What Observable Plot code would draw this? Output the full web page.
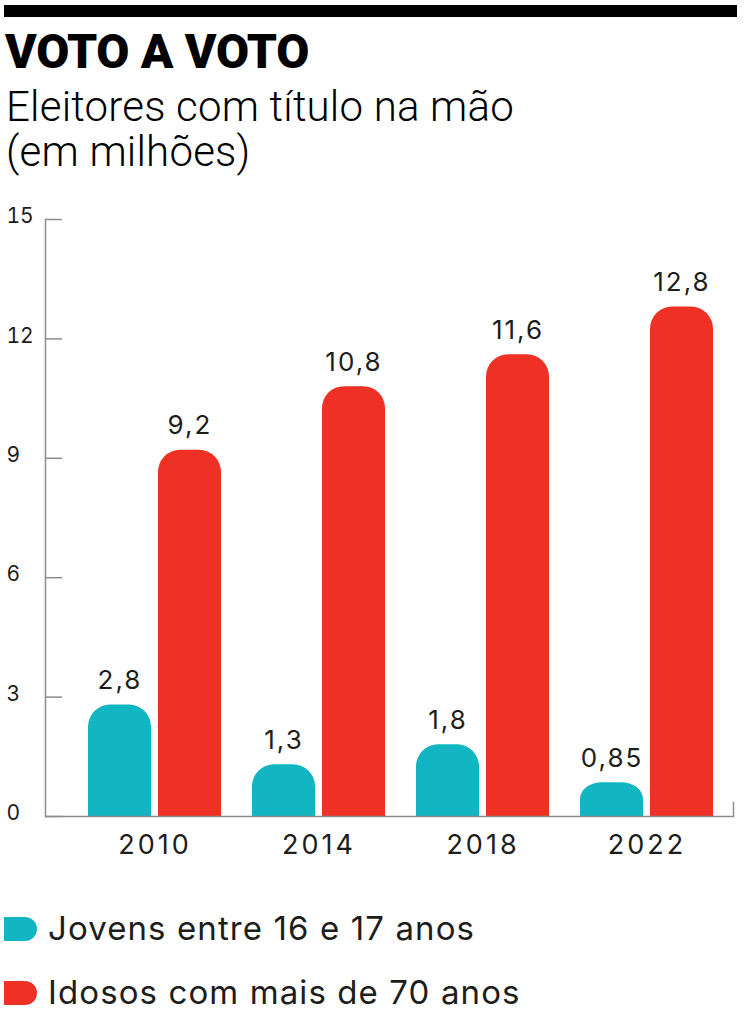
<!DOCTYPE html>
<html>
<head>
<meta charset="utf-8">
<script src="https://cdn.jsdelivr.net/npm/d3@7"></script>
<script src="https://cdn.jsdelivr.net/npm/@observablehq/plot@0.6"></script>
<style>
  html, body { margin: 0; padding: 0; background: #fff; }
  body { width: 744px; height: 1024px; position: relative; overflow: hidden; color: #1d1d1b; }
  #topbar { position: absolute; left: 4px; top: 5px; width: 733px; height: 12px; background: #000; }
  #title { position: absolute; left: 5px; top: 32px; font: 900 48px/40px Roboto, sans-serif; color: #000; white-space: nowrap; letter-spacing: -0.3px; }
  #subtitle { position: absolute; left: 6px; top: 84px; font: 300 42px/45px Roboto, sans-serif; color: #000; white-space: nowrap; letter-spacing: 0.2px; }
  #chart { position: absolute; left: 0; top: 180px; }
  .sw { position: absolute; left: 4px; width: 33px; height: 24px; border-radius: 0 12px 12px 0; }
  .lt { position: absolute; left: 48px; font: 400 33px/33px Inter, sans-serif; color: #1d1d1b; white-space: nowrap; letter-spacing: 1.1px; }
  #chart svg text { letter-spacing: 2px; }
  #chart svg g[aria-label="x-axis tick label"] text { letter-spacing: 3px; }
  #chart svg g[aria-label="y-axis tick label"] text { letter-spacing: 0px; }
</style>
</head>
<body>
<div id="topbar"></div>
<div id="title">VOTO A VOTO</div>
<div id="subtitle">Eleitores com título na mão<br>(em milhões)</div>
<div id="chart"></div>
<div id="legend"></div>
<script>
const years = ["2010", "2014", "2018", "2022"];
const jovens = [2.8, 1.3, 1.8, 0.85];
const idosos = [9.2, 10.8, 11.6, 12.8];
const yTicks = [0, 3, 6, 9, 12, 15];
const seriesNames = ["Jovens entre 16 e 17 anos", "Idosos com mais de 70 anos"];
const seriesColors = ["#12b6c2", "#ee3124"];

const table = years.map((year, i) => ({year, jovens: jovens[i], idosos: idosos[i]}));
const fmt = v => v.toLocaleString("pt-BR");

const axisColor = "#8c8c8c";
const barInset = 70;

const chart = Plot.plot({
  width: 744,
  height: 691,
  marginTop: 39,
  marginBottom: 55,
  marginLeft: 45,
  marginRight: 11,
  style: {fontFamily: "Inter, sans-serif", color: "#1d1d1b", background: "transparent", overflow: "visible"},
  x: {domain: years, range: [87, 714], paddingInner: 0.1875, paddingOuter: 0, round: true, label: null},
  y: {domain: [0, 15], label: null},
  marks: [
    // teal bars: rounded top, square bottom
    Plot.barY(table, {x: "year", y: "jovens", fill: seriesColors[0], insetRight: barInset, rx: 22}),
    Plot.barY(table, {x: "year", y: d => d.jovens / 2, fill: seriesColors[0], insetRight: barInset}),
    // red bars
    Plot.barY(table, {x: "year", y: "idosos", fill: seriesColors[1], insetLeft: barInset, rx: 22}),
    Plot.barY(table, {x: "year", y: d => d.idosos / 2, fill: seriesColors[1], insetLeft: barInset}),
    // axes
    Plot.frame({anchor: "left", stroke: axisColor, strokeWidth: 1.5}),
    Plot.frame({anchor: "right", stroke: axisColor, strokeWidth: 1.5, insetTop: 583}),
    Plot.ruleY([0], {stroke: axisColor, strokeWidth: 1.5}),
    Plot.tickY(yTicks, {y: d => d, stroke: axisColor, strokeWidth: 1.5, insetRight: 671}),
    Plot.axisY({ticks: yTicks, tickSize: 0, tickPadding: 39, textAnchor: "start", fontSize: 21, dy: -3, fill: "#1d1d1b", tickFormat: d => String(d), label: null}),
    Plot.axisX({tickSize: 0, tickPadding: 18, fontSize: 27, fill: "#1d1d1b", label: null}),
    // value labels
    Plot.text(table, {x: "year", y: "jovens", text: d => fmt(d.jovens), dx: -35, dy: -16, lineAnchor: "bottom", fontSize: 26, fill: "#1d1d1b"}),
    Plot.text(table, {x: "year", y: "idosos", text: d => fmt(d.idosos), dx: 35, dy: -16, lineAnchor: "bottom", fontSize: 26, fill: "#1d1d1b"})
  ]
});
document.getElementById("chart").appendChild(chart);

const legend = document.getElementById("legend");
const rowTops = [912, 976];
seriesNames.forEach((name, i) => {
  const sw = document.createElement("div");
  sw.className = "sw";
  sw.style.top = (rowTops[i] + 5) + "px";
  sw.style.background = seriesColors[i];
  const lt = document.createElement("div");
  lt.className = "lt";
  lt.style.top = rowTops[i] + "px";
  lt.textContent = name;
  legend.appendChild(sw);
  legend.appendChild(lt);
});
</script>
</body>
</html>
